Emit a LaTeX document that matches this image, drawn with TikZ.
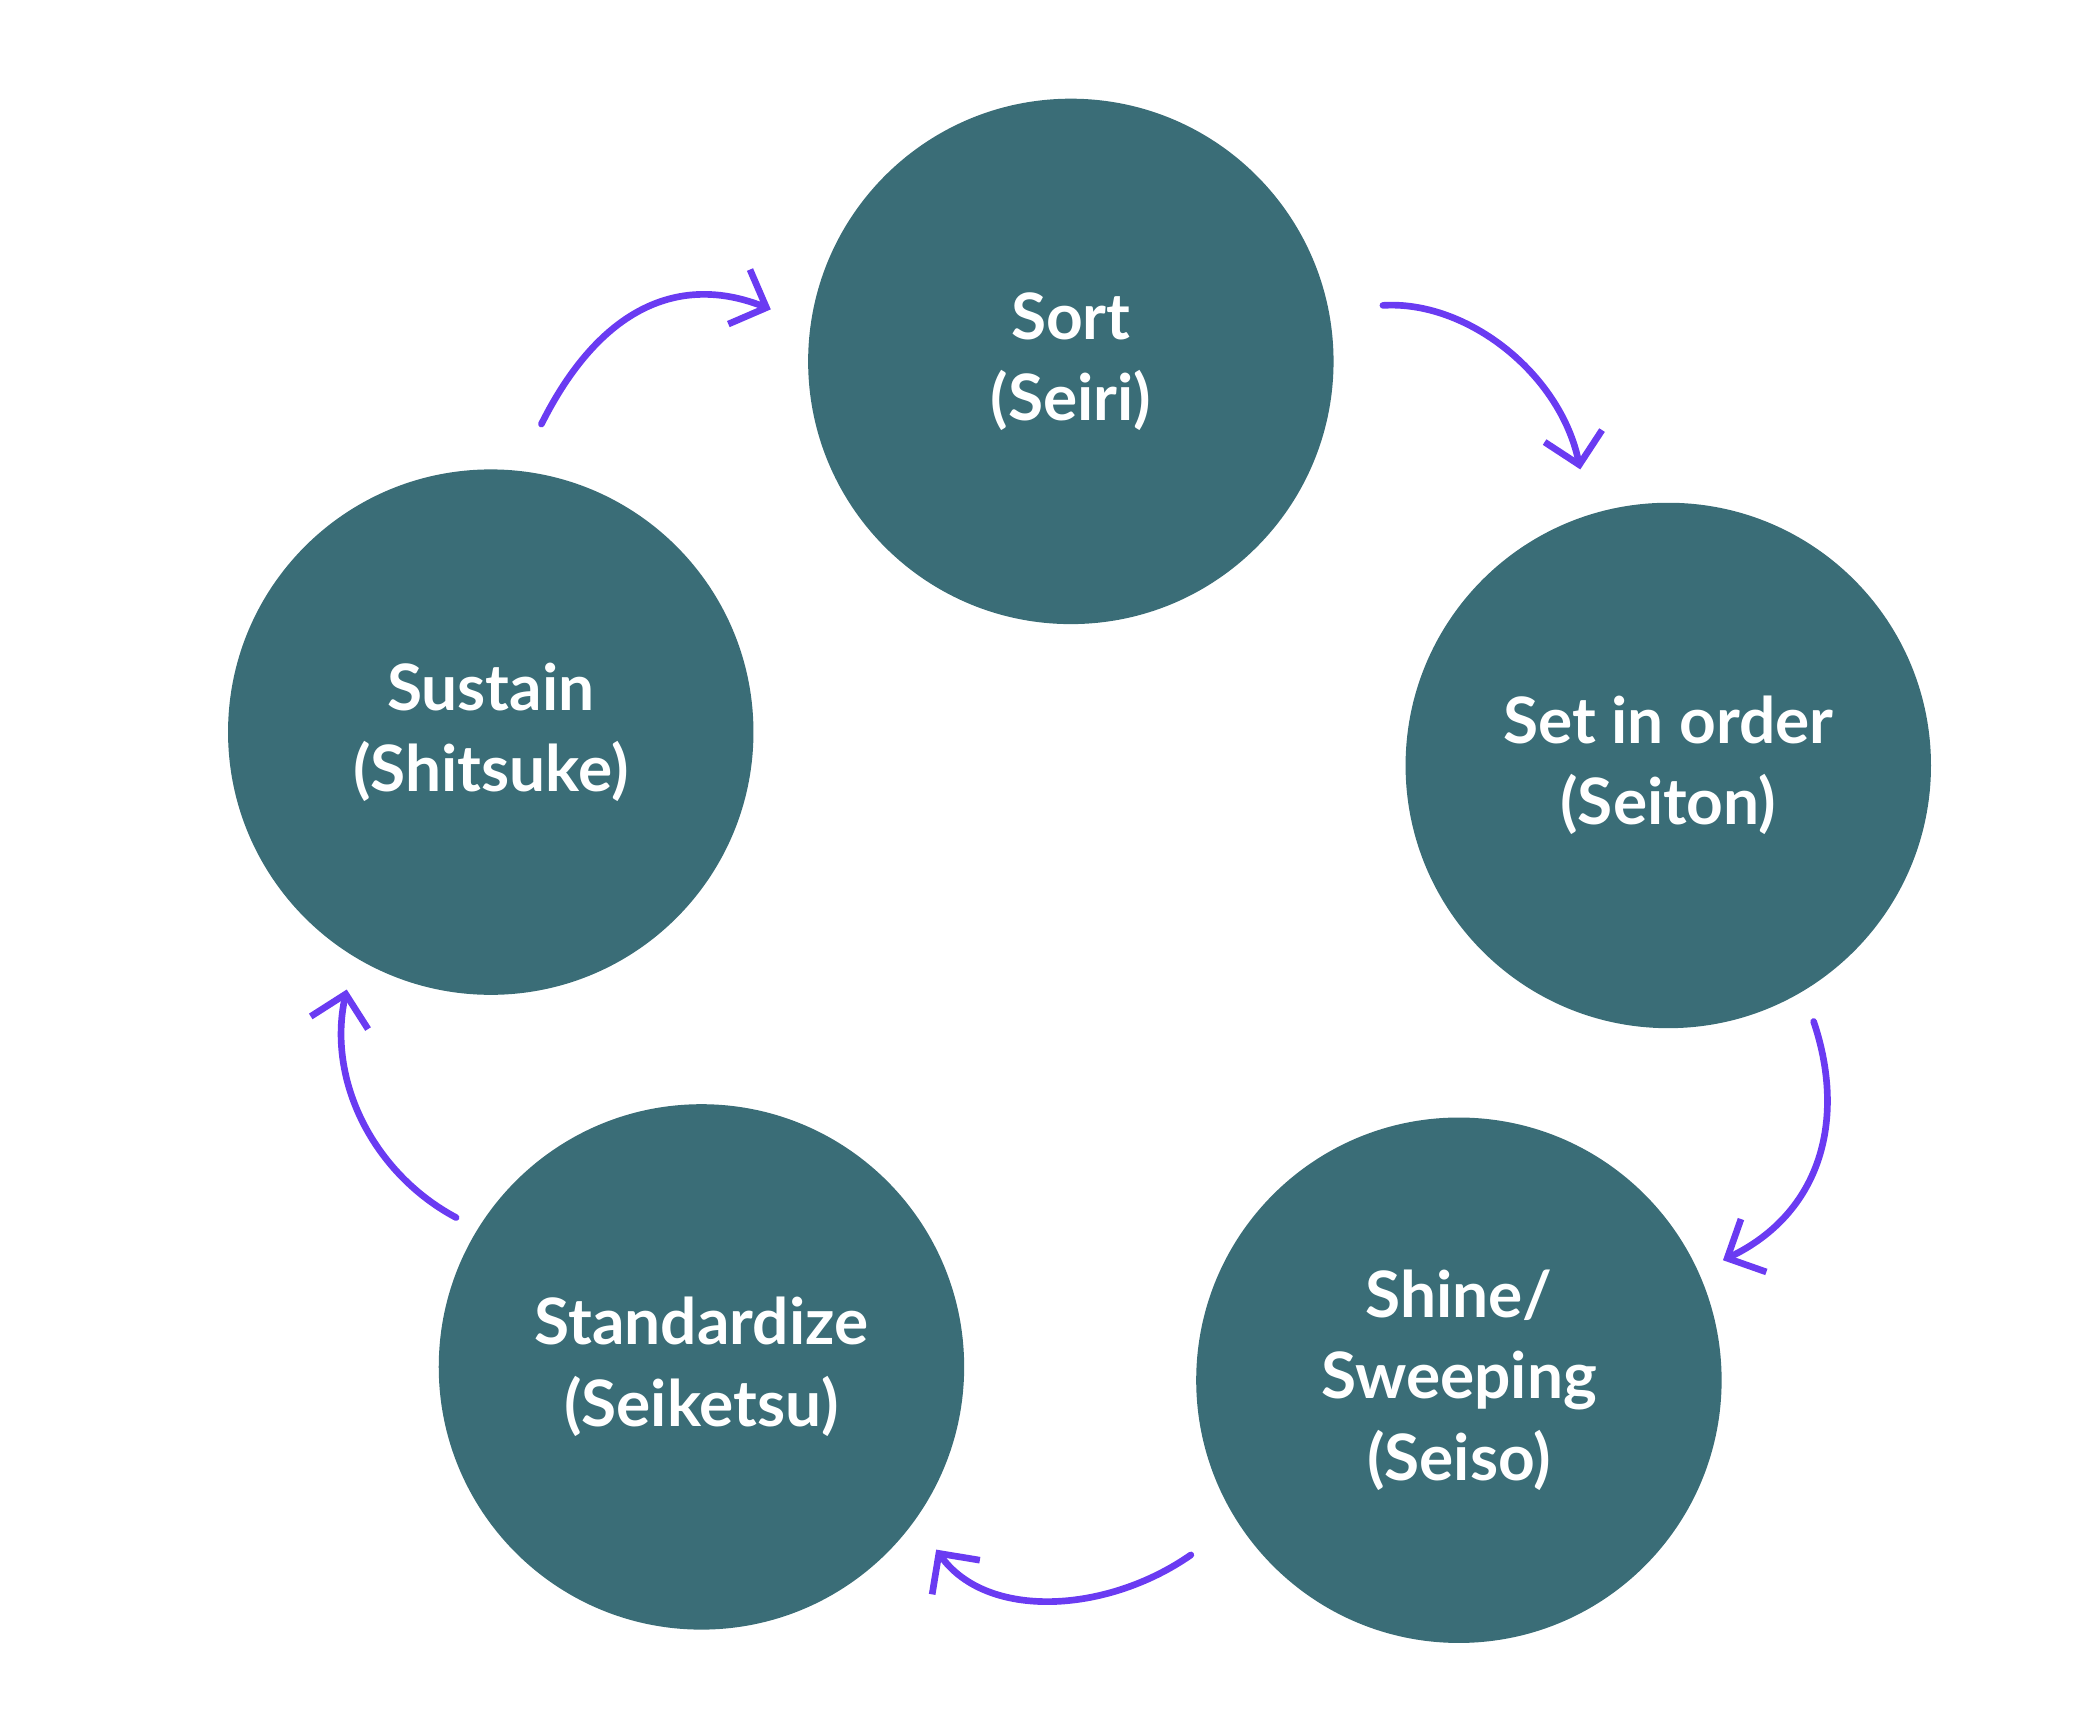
\documentclass[tikz,border=0pt]{standalone}
\usepackage{fontspec}
\setmainfont{Lato}
\usetikzlibrary{arrows.meta}
\definecolor{teal5}{HTML}{3A6D77}
\definecolor{purp}{HTML}{6A3BF2}
\begin{document}
\begin{tikzpicture}[x=1pt,y=-1pt,
  c/.style={circle,fill=teal5,minimum size=394pt,inner sep=0pt,text=white,align=center,font=\bfseries\fontsize{48}{61}\selectfont},
  a/.style={draw=purp,line width=5pt,line cap=round,-{Straight Barb[length=22pt,width=44pt,line width=5pt]}}]
\useasboundingbox (0,0) rectangle (1562,1301);
\node[c] (sort) at (803,271) {Sort\\(Seiri)};
\node[c] (set) at (1251,574) {Set in order\\(Seiton)};
\node[c] (shine) at (1094,1035) {Shine/\\Sweeping\\(Seiso)};
\node[c] (std) at (526,1025) {Standardize\\(Seiketsu)};
\node[c] (sus) at (368,549) {Sustain\\(Shitsuke)};
\coordinate (a1) at (406,318); \coordinate (b1) at (578,232);
\coordinate (a2) at (1037,229); \coordinate (b2) at (1185,352);
\coordinate (a3) at (1360,766); \coordinate (b3) at (1292,945);
\coordinate (a4) at (893,1166); \coordinate (b4) at (702,1162);
\coordinate (a5) at (342,913); \coordinate (b5) at (260,742);
\draw[a] (a1) .. controls (450,230) and (510,205) .. (b1);
\draw[a] (a2) .. controls (1100,225) and (1170,280) .. (b2);
\draw[a] (a3) .. controls (1385,840) and (1365,910) .. (b3);
\draw[a] (a4) .. controls (830,1210) and (740,1215) .. (b4);
\draw[a] (a5) .. controls (280,880) and (245,810) .. (b5);
\end{tikzpicture}
\end{document}
